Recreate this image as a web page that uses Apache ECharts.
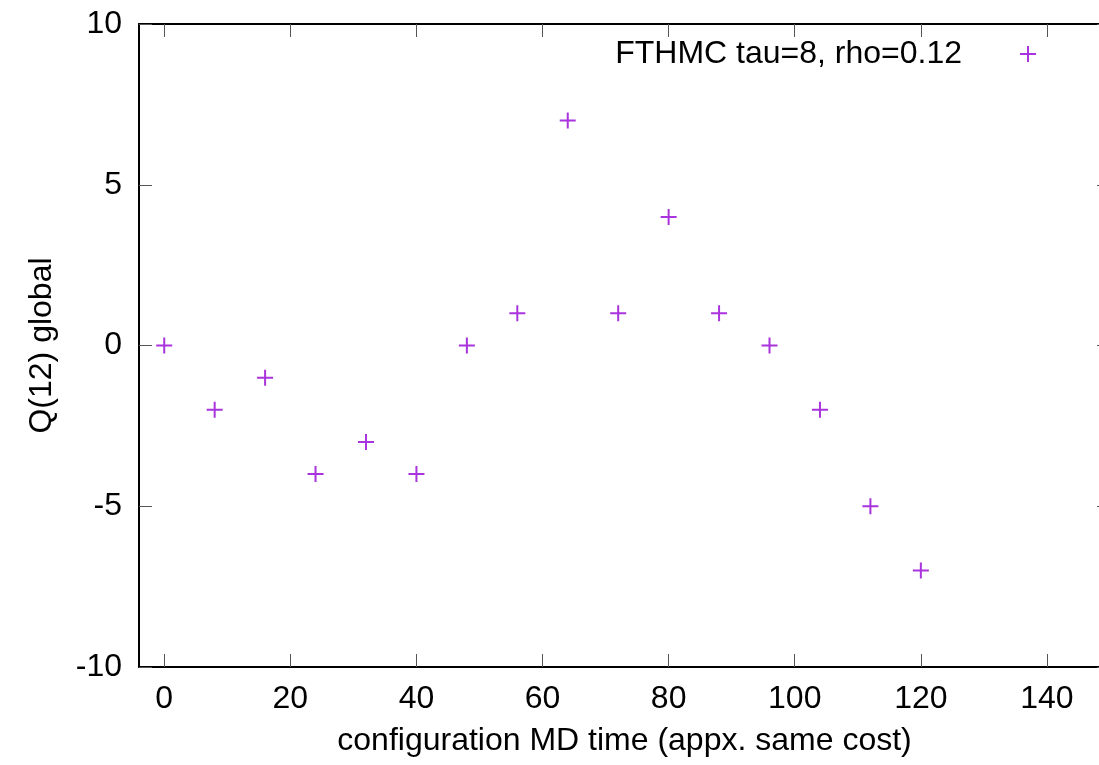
<!DOCTYPE html>
<html>
<head>
<meta charset="utf-8">
<script src="https://cdn.jsdelivr.net/npm/echarts@6/dist/echarts.min.js"></script>
<style>
html,body{margin:0;padding:0;background:#fff;}
#chart{width:1099px;height:765px;}
</style>
</head>
<body>
<div id="chart"></div>
<script>
const xValues = [0, 8, 16, 24, 32, 40, 48, 56, 64, 72, 80, 88, 96, 104, 112, 120];
const qValues = [0, -2, -1, -4, -3, -4, 0, 1, 7, 1, 4, 1, 0, -2, -5, -7];
const xTicks = [0, 20, 40, 60, 80, 100, 120, 140];
const seriesName = 'FTHMC tau=8, rho=0.12';
const xName = 'configuration MD time (appx. same cost)';
const yName = 'Q(12) global';

const FONT = '"Liberation Sans", Arial, Helvetica, sans-serif';
const FS = 32;
const PLUS = 'path://M7,0H9V7H16V9H9V16H7V9H0V7H7Z';
const COLOR = '#9400d3';

const chart = echarts.init(document.getElementById('chart'), null, {renderer: 'canvas'});

const axisLineStyle = {color: '#000', width: 2};
const tickStyle = {color: '#555', width: 1};

const option = {
  animation: false,
  backgroundColor: '#fff',
  textStyle: {fontFamily: FONT},
  grid: {left: 139, top: 24, right: -11, bottom: 98, containLabel: false, outerBoundsMode: 'none'},
  legend: {
    right: 63,
    top: 38,
    padding: 0,
    align: 'right',
    itemWidth: 122,
    itemHeight: 16,
    itemGap: 0,
    data: [{name: seriesName, icon: PLUS}],
    textStyle: {fontFamily: FONT, fontSize: FS, color: '#000', padding: [0, 0, 0, 0]}
  },
  xAxis: [
    {
      type: 'value', min: -4, max: 150, position: 'bottom',
      name: xName, nameLocation: 'middle', nameGap: 58,
      nameTextStyle: {fontFamily: FONT, fontSize: FS, color: '#000'},
      splitLine: {show: false},
      axisLine: {show: true, onZero: false, lineStyle: axisLineStyle},
      axisTick: {show: true, inside: true, length: 13, lineStyle: tickStyle, customValues: xTicks},
      axisLabel: {show: true, margin: 16, fontFamily: FONT, fontSize: FS, color: '#000', customValues: xTicks}
    },
    {
      type: 'value', min: -4, max: 150, position: 'top',
      splitLine: {show: false},
      axisLine: {show: true, onZero: false, lineStyle: axisLineStyle},
      axisTick: {show: true, inside: true, length: 13, lineStyle: tickStyle, customValues: xTicks},
      axisLabel: {show: false}
    }
  ],
  yAxis: [
    {
      type: 'value', min: -10, max: 10, interval: 5, position: 'left',
      name: yName, nameLocation: 'middle', nameGap: 81, nameRotate: 90,
      nameTextStyle: {fontFamily: FONT, fontSize: FS, color: '#000'},
      splitLine: {show: false},
      axisLine: {show: true, onZero: false, lineStyle: axisLineStyle},
      axisTick: {show: true, inside: true, length: 13, lineStyle: tickStyle},
      axisLabel: {show: true, margin: 17, fontFamily: FONT, fontSize: FS, color: '#000'}
    },
    {
      type: 'value', min: -10, max: 10, interval: 5, position: 'right',
      splitLine: {show: false},
      axisLine: {show: true, onZero: false, lineStyle: axisLineStyle},
      axisTick: {show: true, inside: true, length: 13, lineStyle: tickStyle},
      axisLabel: {show: false}
    }
  ],
  series: [
    {
      name: seriesName,
      type: 'scatter',
      xAxisIndex: 0,
      yAxisIndex: 0,
      symbol: PLUS,
      symbolSize: 16,
      itemStyle: {color: COLOR},
      data: xValues.map((x, i) => [x, qValues[i]])
    }
  ]
};

chart.setOption(option);
</script>
</body>
</html>
